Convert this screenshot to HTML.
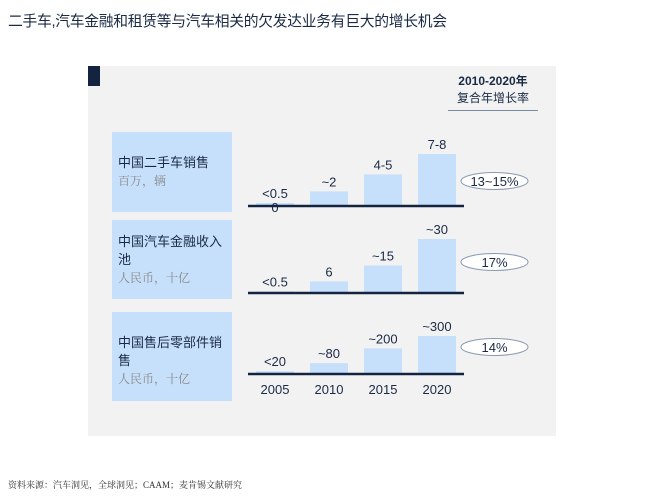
<!DOCTYPE html>
<html><head><meta charset="utf-8">
<style>
body{margin:0;width:669px;height:497px;background:#fff;overflow:hidden;font-family:"Liberation Sans","Noto Sans CJK SC",sans-serif;position:relative}
.abs{position:absolute}
.title{left:8px;top:10px;font-size:14.8px;color:#1a2a44;white-space:nowrap;letter-spacing:-0.3px}
.panel{left:88px;top:66px;width:468px;height:370px;background:#f2f2f2}
.mark{left:88px;top:66px;width:12px;height:20px;background:#14233f}
.lbl{background:#c6e0fb;width:120px;padding:0 6px;box-sizing:border-box;font-size:13px;color:#1a2a44;line-height:18px}
.sub{color:#8a8a8a;font-family:"Liberation Serif","Noto Serif CJK SC",serif;font-size:12px}
.foot{left:8px;top:478px;font-size:9px;color:#333;font-family:"Liberation Serif","Noto Serif CJK SC",serif}
</style></head><body>
<div class="abs title">二手车,汽车金融和租赁等与汽车相关的欠发达业务有巨大的增长机会</div>
<div class="abs panel"></div>
<div class="abs mark"></div>
<div class="abs" style="left:448px;top:73px;width:90px;text-align:center;font-size:12px;color:#1a2a44;line-height:17px;border-bottom:1px solid #7a8aa0;padding-bottom:3px"><b>2010-2020年</b><br>复合年增长率</div>
<div class="abs lbl" style="left:112px;top:132px;height:80px;padding-top:22px">中国二手车销售<br><span class="sub">百万，辆</span></div>
<div class="abs lbl" style="left:112px;top:220px;height:79px;padding-top:13px">中国汽车金融收入池<br><span class="sub">人民币，十亿</span></div>
<div class="abs lbl" style="left:112px;top:312px;height:89px;padding-top:22px">中国售后零部件销售<br><span class="sub">人民币，十亿</span></div>
<svg class="abs" style="left:0;top:0" width="669" height="497" id="chart"></svg>
<div class="abs foot">资料来源：汽车洞见，全球洞见；CAAM；麦肯锡文献研究</div>
<script>
const years=["2005","2010","2015","2020"];
const usedCarValues=[0.3,2,4.5,7.5];
const usedCarLabels=["<0.5","~2","4-5","7-8"];
const financeValues=[0.3,6,15,30];
const financeLabels=["<0.5","6","~15","~30"];
const partsValues=[15,80,200,300];
const partsLabels=["<20","~80","~200","~300"];
const cagrLabels=["13~15%","17%","14%"];
const NS="http://www.w3.org/2000/svg";
const svg=document.getElementById('chart');
function mk(t,a){const e=document.createElementNS(NS,t);for(const k in a)e.setAttribute(k,a[k]);svg.appendChild(e);return e;}
const xCenter=i=>275+i*54;
const rows=[
 {vals:usedCarValues,labels:usedCarLabels,base:205,scale:51/7.5,name:'used-car',cagr:cagrLabels[0],cy:181},
 {vals:financeValues,labels:financeLabels,base:292,scale:53/30,name:'auto-finance',cagr:cagrLabels[1],cy:262},
 {vals:partsValues,labels:partsLabels,base:373,scale:37/300,name:'aftermarket',cagr:cagrLabels[2],cy:347}
];
rows.forEach((r,ri)=>{
 r.vals.forEach((v,i)=>{
  const h=v*r.scale;
  const b=mk('rect',{x:xCenter(i)-19,y:r.base-h,width:38,height:h,fill:'#c6e0fb'});
  
  
  const t=mk('text',{x:xCenter(i),y:r.base-h-5,'text-anchor':'middle','font-size':13,fill:'#1a2a44'});
  t.textContent=r.labels[i];
  
  
 });
 if(ri===0){const z=mk('text',{x:xCenter(0),y:r.base+7,'text-anchor':'middle','font-size':13,fill:'#1a2a44'});z.textContent='0';
  
  }
 const l=mk('line',{x1:248,x2:464,y1:r.base+1,y2:r.base+1,stroke:'#14233f','stroke-width':2.5});
 
 
 const e=mk('ellipse',{cx:494.5,cy:r.cy,rx:33.5,ry:8.5,fill:'#fff',stroke:'#8a9ab0','stroke-width':1});
 
 
 const c=mk('text',{x:494.5,y:r.cy+5,'text-anchor':'middle','font-size':13,fill:'#1a2a44'});
 c.textContent=r.cagr;
 
 
});
years.forEach((y,i)=>{
 const t=mk('text',{x:xCenter(i),y:394,'text-anchor':'middle','font-size':13,fill:'#1a2a44'});
 t.textContent=y;
 
 
});
</script>
</body></html>
